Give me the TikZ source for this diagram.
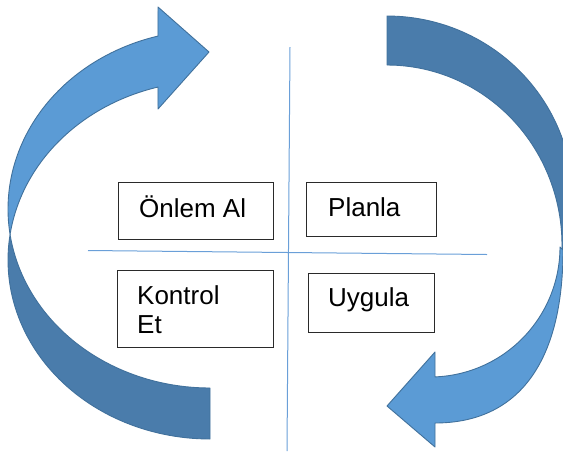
\documentclass[tikz,border=0pt]{standalone}
\usepackage{fontspec}
\setmainfont{Liberation Sans}
\definecolor{arrowlight}{HTML}{5B9BD5}
\definecolor{arrowdark}{HTML}{4A7CAB}
\definecolor{arrowline}{HTML}{41719C}
\definecolor{crossline}{HTML}{6A9FD8}
\definecolor{boxline}{HTML}{2A2A2A}
\tikzset{
  frontpart/.style={fill=arrowlight, draw=arrowline, line width=0.9pt, line join=round},
  backpart/.style={fill=arrowdark, draw=arrowline, line width=0.9pt, line join=round},
  axisline/.style={draw=crossline, line width=1pt},
  stepbox/.style={draw=boxline, fill=white, line width=1.2pt, rectangle, inner sep=0pt, anchor=north west},
  lbl/.style={font=\fontsize{26}{29}\selectfont, inner sep=0pt, text=black},
}
\begin{document}
\begin{tikzpicture}[x=1pt,y=-1pt]
\useasboundingbox (0,0) rectangle (563,451);
\clip (0,0) rectangle (563,451);
% left arrow: back (dark) part
\path[backpart] plot[domain=171.81:90, samples=60, variable=\t] ({210+202*cos(\t)},{209+179*sin(\t)})
  -- (210,439)
  -- plot[domain=90:188.19, samples=60, variable=\t] ({210+202*cos(\t)},{260+179*sin(\t)})
  -- cycle;
% left arrow: front (light) part with head
\path[frontpart] plot[domain=171.81:255.08, samples=60, variable=\t] ({210+202*cos(\t)},{209+179*sin(\t)})
  -- (158,7) -- (209,52) -- (158,109)
  -- plot[domain=255.08:188.19, samples=60, variable=\t] ({210+202*cos(\t)},{260+179*sin(\t)})
  -- cycle;
% right arrow: back (dark) part
\path[backpart] plot[domain=-90:10, samples=60, variable=\t] ({387+186*cos(\t)},{200+184*sin(\t)})
  -- (562,250)
  -- plot[domain=1.59:-90, samples=60, variable=\t] ({387+175*cos(\t)},{245+180*sin(\t)})
  -- cycle;
% right arrow: front (light) part with head
\path[frontpart] (563,250) .. controls (563,362.5) and (518.2,423) .. (435,423)
  -- (435,447) -- (387,406) -- (435,352) -- (435,377)
  -- plot[domain=87.8:0, samples=60, variable=\t] ({430+130*cos(\t)},{247+130*sin(\t)})
  -- cycle;
% cross lines
\coordinate (vtop) at (290,47);
\coordinate (vbot) at (287,451);
\coordinate (hleft) at (88,250.5);
\coordinate (hright) at (487,254.5);
\draw[axisline] (vtop) -- (vbot);
\draw[axisline] (hleft) -- (hright);
% boxes
\node[stepbox, minimum width=155pt, minimum height=57pt] (onlem) at (118,182) {};
\node[stepbox, minimum width=130pt, minimum height=54pt] (planla) at (306,182) {};
\node[stepbox, minimum width=156pt, minimum height=77pt] (kontrol) at (117,270) {};
\node[stepbox, minimum width=126pt, minimum height=59pt] (uygula) at (308,273) {};
% labels
\node[lbl, anchor=base west] (tonlem) at (139,217.5) {Önlem Al};
\node[lbl, anchor=base west] (tplanla) at (328,216.7) {Planla};
\node[lbl, anchor=north west, align=left] (tkontrol) at (137,285.4) {Kontrol\\Et};
\node[lbl, anchor=base west] (tuygula) at (328,306) {Uygula};
\end{tikzpicture}
\end{document}
